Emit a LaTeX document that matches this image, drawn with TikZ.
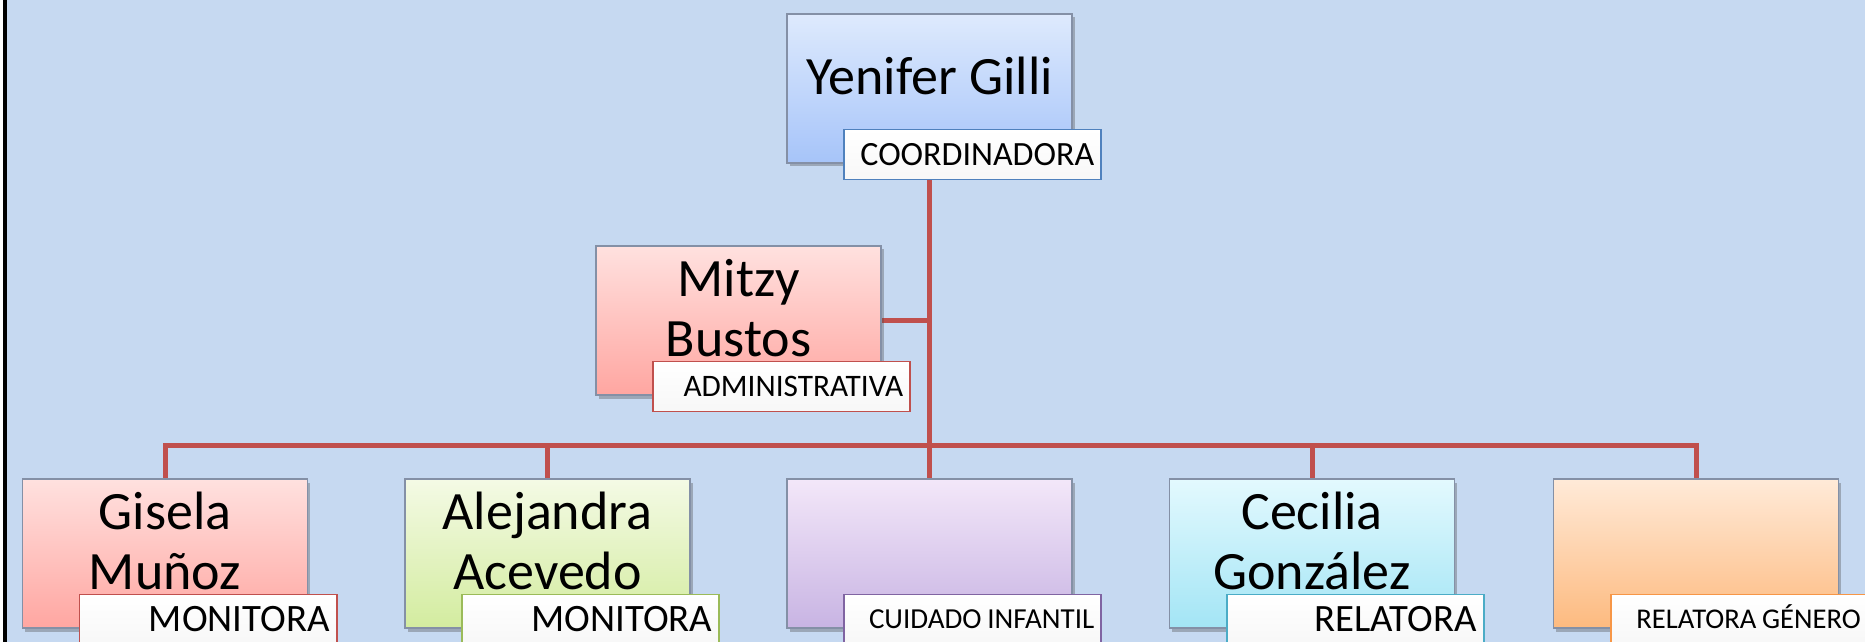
\documentclass[tikz,border=0pt]{standalone}
\usepackage{fontspec}
\setmainfont{Carlito}
\usetikzlibrary{shadows,calc}
\definecolor{bgblue}{HTML}{C6D9F1}
\definecolor{conn}{HTML}{C0504D}
\definecolor{boxedge}{HTML}{8490A6}
\definecolor{bluetop}{HTML}{DEEAFD}
\definecolor{bluebot}{HTML}{A6C4F9}
\definecolor{pinktop}{HTML}{FFE1DF}
\definecolor{pinkbot}{HTML}{FFA6A1}
\definecolor{greentop}{HTML}{F4FAE5}
\definecolor{greenbot}{HTML}{D3EC9F}
\definecolor{purptop}{HTML}{F3E7F9}
\definecolor{purpbot}{HTML}{C8B4E3}
\definecolor{cyantop}{HTML}{E3F9FE}
\definecolor{cyanbot}{HTML}{A3E5F5}
\definecolor{orantop}{HTML}{FFEAD8}
\definecolor{oranbot}{HTML}{FDBA7F}
\definecolor{lblue}{HTML}{4F81BD}
\definecolor{lred}{HTML}{C0504D}
\definecolor{lgreen}{HTML}{9BBB59}
\definecolor{lpurp}{HTML}{8064A2}
\definecolor{lcyan}{HTML}{4BACC6}
\definecolor{loran}{HTML}{F79646}
\pgfdeclarelayer{back}
\pgfsetlayers{back,main}
\tikzset{
  orgbox/.style={rectangle, draw=boxedge, line width=1.2bp,
    minimum width=285bp, minimum height=149bp, inner sep=0pt,
    drop shadow={shadow xshift=2.5bp, shadow yshift=-3.5bp, opacity=0.35, fill=black!70}},
  nametext/.style={font=\fontsize{54.2pt}{60.2pt}\selectfont, align=center, inner sep=0pt},
  rolebox/.style 2 args={rectangle, line width=1.6bp, top color=white, bottom color=gray!6,
    minimum height=50bp, text width=243bp, inner xsep=7bp, inner ysep=0pt,
    align=right, font=\fontsize{#1}{#1}\selectfont, text height=#2, text depth=0pt,
    anchor=north west},
  link/.style={draw=conn, line width=5bp, line join=miter}
}
\begin{document}
\begin{tikzpicture}[x=1bp,y=-1bp]
\useasboundingbox (0,0) rectangle (1865,642);
\begin{pgfonlayer}{back}
  \fill[bgblue] (-10,-10) rectangle (1880,655);
  \fill[white] (-10,-10) rectangle (3,655);
  \fill[black] (3,-10) rectangle (7,655);
\end{pgfonlayer}
\clip (-2,-2) rectangle (1867,644);

% top
\node[orgbox, top color=bluetop, bottom color=bluebot] (top) at (929.5,88.5) {};
\node[nametext] (ttop) at ([yshift=6bp]top.center) {\strut Yenifer Gilli};
\node[rolebox={34.1pt}{22pt}, draw=lblue] (rtop) at ([shift={(57,-35)}]top.south west) {COORDINADORA};

% assistant
\node[orgbox, top color=pinktop, bottom color=pinkbot] (mitzy) at (738.5,320.5) {};
\node[nametext] (tmitzy) at ([yshift=6bp]mitzy.center) {\strut Mitzy\\\strut Bustos};
\node[rolebox={31.4pt}{20.2pt}, draw=lred] (rmitzy) at ([shift={(57,-35)}]mitzy.south west) {ADMINISTRATIVA};

% bottom row
\node[orgbox, top color=pinktop, bottom color=pinkbot] (b1) at (165,553.5) {};
\node[nametext] (t1) at ([yshift=6bp]b1.center) {\strut Gisela\\\strut Muñoz};
\node[rolebox={38.95pt}{25.1pt}, draw=lred] (r1) at ([shift={(57,-35)}]b1.south west) {MONITORA};

\node[orgbox, top color=greentop, bottom color=greenbot] (b2) at (547.5,553.5) {};
\node[nametext] (t2) at ([yshift=6bp]b2.center) {\strut Alejandra\\\strut Acevedo};
\node[rolebox={38.95pt}{25.1pt}, draw=lgreen] (r2) at ([shift={(57,-35)}]b2.south west) {MONITORA};

\node[orgbox, top color=purptop, bottom color=purpbot] (b3) at (929.5,553.5) {};
\node[rolebox={29.1pt}{18.7pt}, draw=lpurp] (r3) at ([shift={(57,-35)}]b3.south west) {CUIDADO\hspace{0.2em}INFANTIL};

\node[orgbox, top color=cyantop, bottom color=cyanbot] (b4) at (1312,553.5) {};
\node[nametext] (t4) at ([yshift=6bp]b4.center) {\strut Cecilia\\\strut González};
\node[rolebox={38.85pt}{25pt}, draw=lcyan] (r4) at ([shift={(57,-35)}]b4.south west) {RELATORA};

\node[orgbox, top color=orantop, bottom color=oranbot] (b5) at (1696,553.5) {};
\node[rolebox={28.7pt}{18.5pt}, draw=loran] (r5) at ([shift={(57,-35)}]b5.south west) {RELATORA\hspace{0.2em}GÉNERO};

\begin{pgfonlayer}{back}
  \coordinate (bus) at (929.5,445.5);
  \draw[link] (top.south) -- (b3.north);
  \draw[link] (b1.north) |- (bus) -| (b5.north);
  \draw[link] (b2.north) -- (b2.north |- bus);
  \draw[link] (b4.north) -- (b4.north |- bus);
  \draw[link] (mitzy.east) -- (mitzy.east -| top.south);
\end{pgfonlayer}
\end{tikzpicture}
\end{document}
